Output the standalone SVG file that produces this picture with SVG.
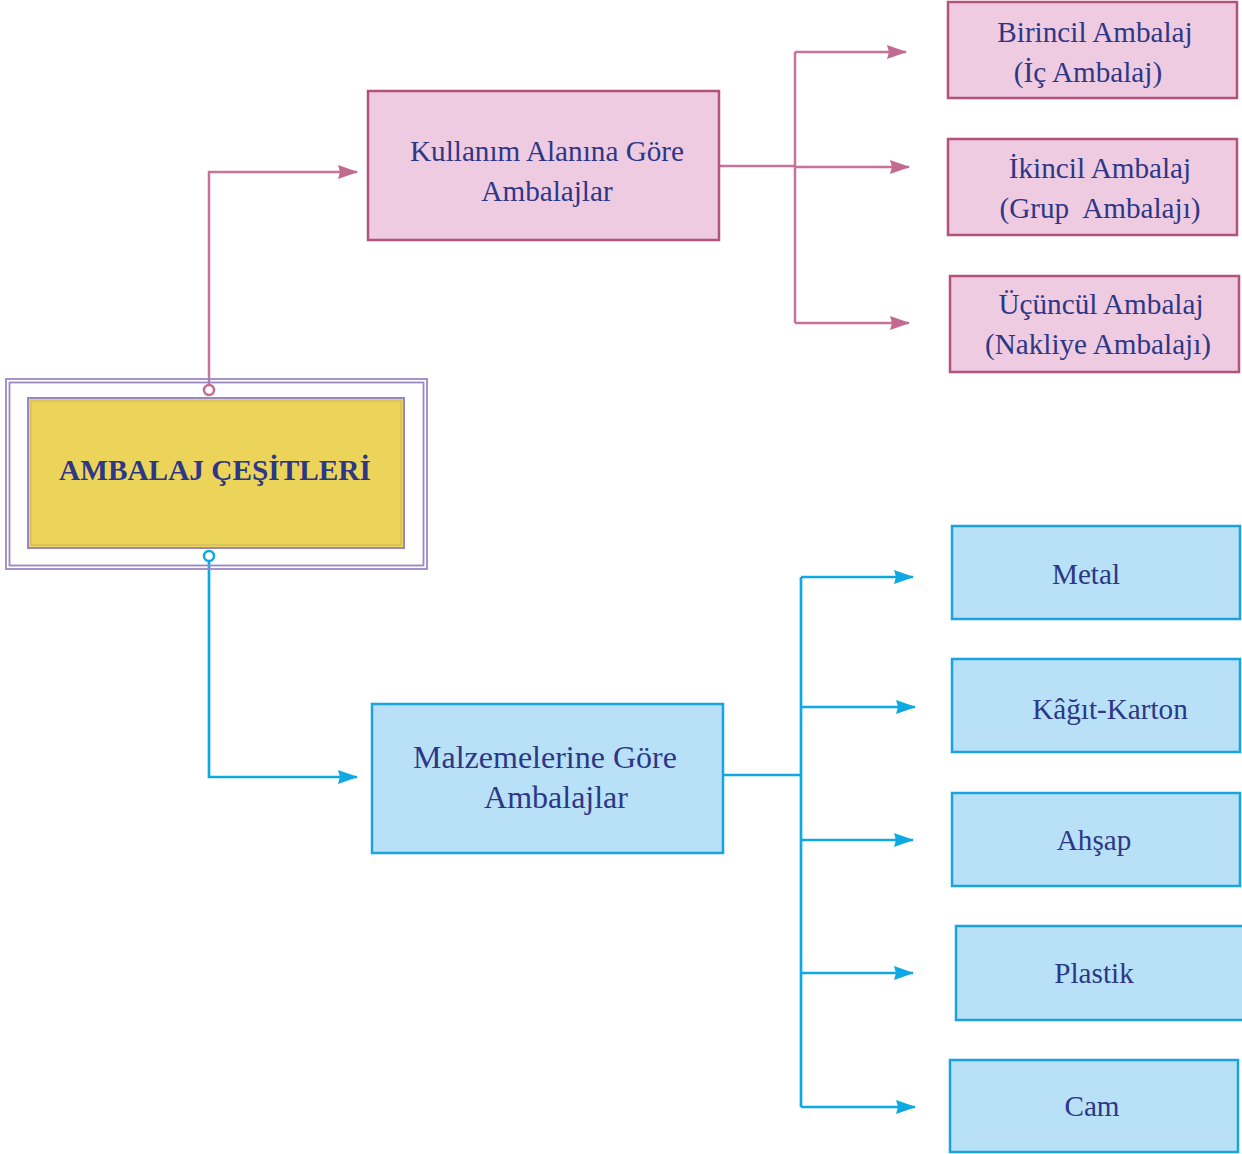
<svg xmlns="http://www.w3.org/2000/svg" width="1242" height="1154" viewBox="0 0 1242 1154">
<defs>
<style>
.t{font-family:"Liberation Serif","Times New Roman",serif;fill:#2d3785;text-anchor:middle;font-size:29.2px}
.big{font-size:32px}
.title{font-size:29.3px;font-weight:bold}
.pbox{fill:#eecbe1;stroke:#b4527b;stroke-width:2.5}
.bbox{fill:#b8e1f8;stroke:#1aa3e0;stroke-width:2.5}
.pl{fill:none;stroke:#c7729a;stroke-width:2.5}
.bl{fill:none;stroke:#0ea9e3;stroke-width:2.7}
</style>
<marker id="ap" markerUnits="userSpaceOnUse" markerWidth="20" markerHeight="16" refX="19" refY="8" orient="auto" viewBox="0 0 20 16">
<path d="M0,1 L20,8 L0,15 L2,8 Z" fill="#c26a8f"/>
</marker>
<marker id="ab" markerUnits="userSpaceOnUse" markerWidth="20" markerHeight="16" refX="19" refY="8" orient="auto" viewBox="0 0 20 16">
<path d="M0,1 L20,8 L0,15 L2,8 Z" fill="#0ea9e3"/>
</marker>
</defs>
<rect width="1242" height="1154" fill="#ffffff"/>

<g id="connectors">
<path class="pl" d="M209,385 V172 H357" marker-end="url(#ap)"/>
<path class="pl" d="M719,166 H795"/>
<path class="pl" d="M795,52 V323"/>
<path class="pl" d="M795,52 H906" marker-end="url(#ap)"/>
<path class="pl" d="M795,167 H909" marker-end="url(#ap)"/>
<path class="pl" d="M795,323 H909" marker-end="url(#ap)"/>
<path class="bl" d="M209,561 V777 H357" marker-end="url(#ab)"/>
<path class="bl" d="M723,775 H801"/>
<path class="bl" d="M801,577 V1107"/>
<path class="bl" d="M801,577 H913" marker-end="url(#ab)"/>
<path class="bl" d="M801,707 H915" marker-end="url(#ab)"/>
<path class="bl" d="M801,840 H913" marker-end="url(#ab)"/>
<path class="bl" d="M801,973 H913" marker-end="url(#ab)"/>
<path class="bl" d="M801,1107 H915" marker-end="url(#ab)"/>
<circle cx="209" cy="390" r="5" fill="#ffffff" stroke="#c26a8f" stroke-width="2.5"/>
<circle cx="209" cy="556" r="5" fill="#ffffff" stroke="#0ea9e3" stroke-width="2.5"/>
</g>

<g id="root">
<rect x="6" y="379" width="421" height="190" fill="none" stroke="#9a88c4" stroke-width="1.8"/>
<rect x="9.5" y="382.5" width="414" height="183" fill="none" stroke="#9a88c4" stroke-width="1.8"/>
<rect x="28" y="398" width="376" height="150" fill="#ecd45b" stroke="#9a88c4" stroke-width="2"/>
<rect x="31" y="401" width="370" height="144" fill="none" stroke="#c9b46a" stroke-width="1"/>
<text class="t title" x="215" y="480">AMBALAJ ÇEŞİTLERİ</text>
</g>

<g id="kullanim">
<rect class="pbox" x="368" y="91" width="351" height="149"/>
<text class="t" x="547" y="161">Kullanım Alanına Göre</text>
<text class="t" x="547" y="201">Ambalajlar</text>
</g>

<g id="birincil">
<rect class="pbox" x="948" y="2" width="289" height="96"/>
<text class="t" x="1095" y="42">Birincil Ambalaj</text>
<text class="t" x="1088" y="82">(İç Ambalaj)</text>
</g>

<g id="ikincil">
<rect class="pbox" x="948" y="139" width="289" height="96"/>
<text class="t" x="1100" y="178">İkincil Ambalaj</text>
<text class="t" x="1100" y="218" xml:space="preserve">(Grup  Ambalajı)</text>
</g>

<g id="ucuncul">
<rect class="pbox" x="950" y="276" width="289" height="96"/>
<text class="t" x="1101" y="314">Üçüncül Ambalaj</text>
<text class="t" x="1098" y="354">(Nakliye Ambalajı)</text>
</g>

<g id="malzeme">
<rect class="bbox" x="372" y="704" width="351" height="149"/>
<text class="t big" x="545" y="768">Malzemelerine Göre</text>
<text class="t big" x="556" y="808">Ambalajlar</text>
</g>

<g id="metal">
<rect class="bbox" x="952" y="526" width="288" height="93"/>
<text class="t" x="1086" y="584">Metal</text>
</g>
<g id="kagit">
<rect class="bbox" x="952" y="659" width="288" height="93"/>
<text class="t" x="1110" y="719">Kâğıt-Karton</text>
</g>
<g id="ahsap">
<rect class="bbox" x="952" y="793" width="288" height="93"/>
<text class="t" x="1094" y="850">Ahşap</text>
</g>
<g id="plastik">
<rect class="bbox" x="956" y="926" width="288" height="94"/>
<text class="t" x="1094" y="983">Plastik</text>
</g>
<g id="cam">
<rect class="bbox" x="950" y="1060" width="288" height="92"/>
<text class="t" x="1092" y="1116">Cam</text>
</g>
</svg>
